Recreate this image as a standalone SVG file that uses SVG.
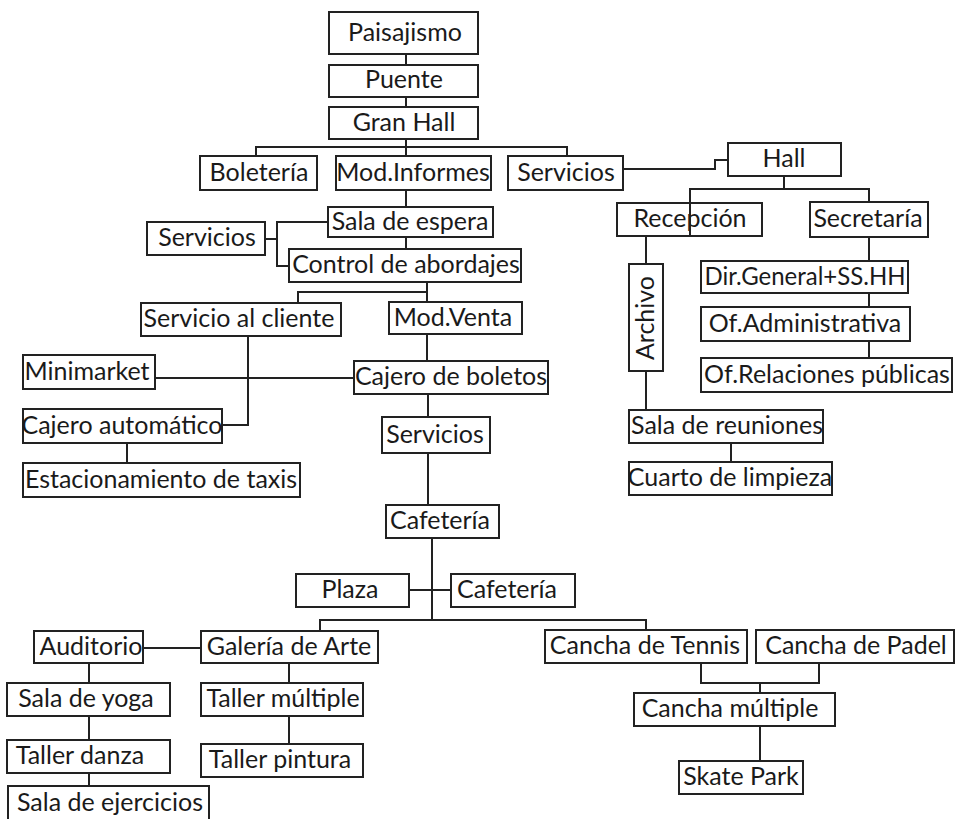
<svg xmlns="http://www.w3.org/2000/svg" width="955" height="819" viewBox="0 0 955 819">
<style>
.b{fill:#fff;stroke:#222;stroke-width:2}
.t{font-family:Lato,"Noto Sans",sans-serif;font-size:25px;fill:#1a1a1a;text-anchor:middle}
.c{fill:none;stroke:#222;stroke-width:2}
</style>
<rect width="955" height="819" fill="#fff"/>
<g id="connectors" class="c">
<path d="M406,54V65M406,97V107M406,139V156M256,156V147H567V156"/>
<path d="M623,169H715V160H728M784,176V189M690,236V189H869V202"/>
<path d="M869,237V261M869,293V307M869,341V358"/>
<path d="M646,236V264M646,371V410M731,443V462"/>
<path d="M406,190V207M406,237V249"/>
<path d="M265,239H277M328,222H277V266H289"/>
<path d="M427,282V302M298,303V292H427"/>
<path d="M248,336V425H222M155,378H354M427,334V361M127,443V463"/>
<path d="M428,394V417M428,453V505"/>
<path d="M432,538V620M409,590H451M320,631V620H646V630"/>
<path d="M143,648H201M89,663V683M89,716V740M89,773V786M289,663V683M289,716V744"/>
<path d="M701,663V683H819V663M760,683V693M760,726V761"/>
</g>
<g id="n-paisajismo"><rect class="b" x="329" y="12" width="149" height="42"/><text class="t" x="405" y="41">Paisajismo</text></g>
<g id="n-puente"><rect class="b" x="329" y="65" width="149" height="32"/><text class="t" x="404" y="88">Puente</text></g>
<g id="n-granhall"><rect class="b" x="329" y="107" width="149" height="32"/><text class="t" x="404" y="131">Gran Hall</text></g>
<g id="n-boleteria"><rect class="b" x="200" y="156" width="117" height="34"/><text class="t" x="259" y="181">Boletería</text></g>
<g id="n-modinformes"><rect class="b" x="336" y="156" width="155" height="34"/><text class="t" x="413" y="181">Mod.Informes</text></g>
<g id="n-servicios1"><rect class="b" x="508" y="156" width="115" height="34"/><text class="t" x="566" y="181">Servicios</text></g>
<g id="n-hall"><rect class="b" x="728" y="143" width="113" height="33"/><text class="t" x="784" y="167">Hall</text></g>
<g id="n-recepcion"><rect class="b" x="617" y="203" width="145" height="33"/><text class="t" x="690" y="227">Recepción</text></g>
<path d="M690,203V236" class="c"/>
<g id="n-secretaria"><rect class="b" x="810" y="202" width="118" height="35"/><text class="t" x="868" y="227">Secretaría</text></g>
<g id="n-dirgeneral"><rect class="b" x="701" y="261" width="207" height="32"/><text class="t" x="805" y="285" textLength="201" lengthAdjust="spacingAndGlyphs">Dir.General+SS.HH</text></g>
<g id="n-ofadmin"><rect class="b" x="701" y="307" width="209" height="34"/><text class="t" x="805" y="332">Of.Administrativa</text></g>
<g id="n-ofrel"><rect class="b" x="701" y="358" width="251" height="34"/><text class="t" x="827" y="383">Of.Relaciones públicas</text></g>
<g id="n-archivo"><rect class="b" x="629" y="264" width="34" height="107"/><text class="t" transform="translate(646,318) rotate(-90)" x="0" y="8">Archivo</text></g>
<g id="n-salareuniones"><rect class="b" x="629" y="410" width="194" height="33"/><text class="t" x="727" y="434">Sala de reuniones</text></g>
<g id="n-cuarto"><rect class="b" x="629" y="462" width="203" height="33"/><text class="t" x="730" y="486">Cuarto de limpieza</text></g>
<g id="n-salaespera"><rect class="b" x="328" y="207" width="165" height="30"/><text class="t" x="410" y="230">Sala de espera</text></g>
<g id="n-control"><rect class="b" x="289" y="249" width="232" height="33"/><text class="t" x="406" y="273">Control de abordajes</text></g>
<g id="n-servicios2"><rect class="b" x="147" y="222" width="118" height="33"/><text class="t" x="207" y="246">Servicios</text></g>
<g id="n-servcliente"><rect class="b" x="141" y="303" width="200" height="33"/><text class="t" x="239" y="327">Servicio al cliente</text></g>
<g id="n-modventa"><rect class="b" x="389" y="302" width="133" height="32"/><text class="t" x="453" y="326">Mod.Venta</text></g>
<g id="n-minimarket"><rect class="b" x="23" y="355" width="132" height="34"/><text class="t" x="87" y="380">Minimarket</text></g>
<g id="n-cajeroboletos"><rect class="b" x="354" y="361" width="194" height="33"/><text class="t" x="451" y="385">Cajero de boletos</text></g>
<g id="n-cajeroauto"><rect class="b" x="23" y="409" width="199" height="34"/><text class="t" x="122" y="434">Cajero automático</text></g>
<g id="n-estacionamiento"><rect class="b" x="23" y="463" width="277" height="34"/><text class="t" x="161" y="488">Estacionamiento de taxis</text></g>
<g id="n-servicios3"><rect class="b" x="382" y="417" width="108" height="36"/><text class="t" x="435" y="443">Servicios</text></g>
<g id="n-cafeteria1"><rect class="b" x="386" y="505" width="113" height="33"/><text class="t" x="440" y="529">Cafetería</text></g>
<g id="n-plaza"><rect class="b" x="296" y="574" width="113" height="33"/><text class="t" x="350" y="598">Plaza</text></g>
<g id="n-cafeteria2"><rect class="b" x="451" y="574" width="124" height="33"/><text class="t" x="507" y="598">Cafetería</text></g>
<g id="n-auditorio"><rect class="b" x="34" y="631" width="109" height="32"/><text class="t" x="91" y="655">Auditorio</text></g>
<g id="n-galeria"><rect class="b" x="201" y="631" width="177" height="32"/><text class="t" x="289" y="655">Galería de Arte</text></g>
<g id="n-yoga"><rect class="b" x="7" y="683" width="163" height="33"/><text class="t" x="86" y="707">Sala de yoga</text></g>
<g id="n-danza"><rect class="b" x="7" y="740" width="163" height="33"/><text class="t" x="80" y="764">Taller danza</text></g>
<g id="n-ejercicios"><rect class="b" x="8" y="786" width="201" height="36"/><text class="t" x="110" y="811">Sala de ejercicios</text></g>
<g id="n-tallermultiple"><rect class="b" x="201" y="683" width="162" height="33"/><text class="t" x="283" y="707">Taller múltiple</text></g>
<g id="n-tallerpintura"><rect class="b" x="201" y="744" width="162" height="33"/><text class="t" x="280" y="768">Taller pintura</text></g>
<g id="n-tennis"><rect class="b" x="545" y="630" width="202" height="33"/><text class="t" x="645" y="654">Cancha de Tennis</text></g>
<g id="n-padel"><rect class="b" x="756" y="630" width="198" height="33"/><text class="t" x="856" y="654">Cancha de Padel</text></g>
<g id="n-canchamultiple"><rect class="b" x="634" y="693" width="201" height="33"/><text class="t" x="730" y="717">Cancha múltiple</text></g>
<g id="n-skate"><rect class="b" x="679" y="761" width="124" height="33"/><text class="t" x="741" y="785">Skate Park</text></g>
</svg>
